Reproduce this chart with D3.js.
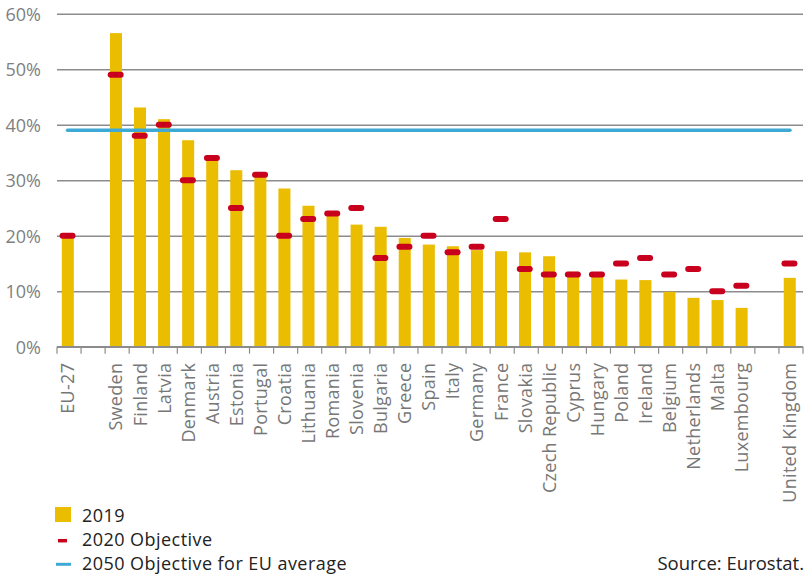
<!DOCTYPE html>
<html>
<head>
<meta charset="utf-8">
<script src="https://cdn.jsdelivr.net/npm/d3@7"></script>
<style>
  body { margin: 0; background: #fff; }
  text { font-family: "Open Sans", sans-serif; }
</style>
</head>
<body>
<script>
// categories ('' = empty slot in the chart)
var categories = ['EU-27', '', 'Sweden', 'Finland', 'Latvia', 'Denmark', 'Austria', 'Estonia',
  'Portugal', 'Croatia', 'Lithuania', 'Romania', 'Slovenia', 'Bulgaria', 'Greece', 'Spain',
  'Italy', 'Germany', 'France', 'Slovakia', 'Czech Republic', 'Cyprus', 'Hungary', 'Poland',
  'Ireland', 'Belgium', 'Netherlands', 'Malta', 'Luxembourg', '', 'United Kingdom'];

// share of renewables 2019 (%)
var values2019 = [19.7, null, 56.5, 43.1, 41.0, 37.2, 33.6, 31.8, 30.6, 28.5, 25.4, 24.3,
  22.0, 21.6, 19.6, 18.4, 18.1, 17.4, 17.2, 17.0, 16.3, 13.5, 12.8, 12.1, 12.0, 9.9, 8.8,
  8.4, 7.0, null, 12.4];

// 2020 objective (%)
var objectives2020 = [20, null, 49, 38, 40, 30, 34, 25, 31, 20, 23, 24, 25, 16, 18, 20, 17,
  18, 23, 14, 13, 13, 13, 15, 16, 13, 14, 10, 11, null, 15];

// 2050 objective for EU average (%)
var objective2050 = 39;

var yTicks = [0, 10, 20, 30, 40, 50, 60];

var legendLabels = ['2019', '2020 Objective', '2050 Objective for EU average'];

//colours
var barColor = '#ebbd00',
    redColor = '#c8001e',
    blueColor = '#3fa9d5',
    gridColor = '#8c8c8c';

//setup graph size
var width = 806, height = 577;
var margin = {top: 13.7, left: 57, right: 3, bottom: 230.3};
var innerW = width - margin.left - margin.right,
    innerH = height - margin.top - margin.bottom;

var svg = d3.select('body').append('svg')
    .attr('width', width)
    .attr('height', height);

var g = svg.append('g')
    .attr('transform', 'translate(' + margin.left + ',' + margin.top + ')');

//scales
var xScale = d3.scaleBand()
    .domain(d3.range(categories.length))
    .range([0, innerW])
    .paddingInner(0.5)
    .paddingOuter(0.25);
var step = xScale.step();
var xCenter = function(i) { return xScale(i) + xScale.bandwidth() / 2; };

var yScale = d3.scaleLinear().domain([0, 60]).range([innerH, 0]);

//gridlines + y labels
var yAxis = d3.axisLeft(yScale)
    .tickValues(yTicks)
    .tickSize(-innerW)
    .tickFormat(function(d) { return d + '%'; });

g.append('g')
    .attr('class', 'y-axis')
    .call(yAxis)
    .call(function(s) {
      s.select('.domain').remove();
      s.selectAll('line').attr('stroke', gridColor).attr('stroke-width', 1.5);
      s.selectAll('text')
        .attr('x', -16)
        .attr('dy', '0.36em')
        .attr('fill', '#7f7f7f')
        .style('font-size', '18px');
    });

//bars
g.selectAll('.bar')
    .data(values2019.map(function(v, i) { return {v: v, i: i}; }).filter(function(d) { return d.v != null; }))
    .enter().append('rect')
    .attr('class', 'bar')
    .attr('x', function(d) { return xScale(d.i) - 1.2; })
    .attr('width', xScale.bandwidth())
    .attr('y', function(d) { return yScale(d.v); })
    .attr('height', function(d) { return innerH - yScale(d.v); })
    .attr('fill', barColor);

//x axis with ticks at band boundaries
g.append('line')
    .attr('x1', 0).attr('x2', innerW)
    .attr('y1', innerH).attr('y2', innerH)
    .attr('stroke', gridColor).attr('stroke-width', 1.5);

g.selectAll('.xtick')
    .data(d3.range(categories.length + 1))
    .enter().append('line')
    .attr('class', 'xtick')
    .attr('x1', function(d) { return d * step; })
    .attr('x2', function(d) { return d * step; })
    .attr('y1', innerH)
    .attr('y2', innerH + 7)
    .attr('stroke', gridColor).attr('stroke-width', 1.2);

g.selectAll('.xlabel')
    .data(categories.map(function(c, i) { return {c: c, i: i}; }).filter(function(d) { return d.c !== ''; }))
    .enter().append('text')
    .attr('class', 'xlabel')
    .attr('transform', function(d) {
      return 'translate(' + (xCenter(d.i) - 1) + ',' + (innerH + 16) + ') rotate(-90)';
    })
    .attr('text-anchor', 'end')
    .attr('dy', '0.35em')
    .attr('fill', '#777')
    .style('font-size', '18px')
    .style('letter-spacing', '0.3px')
    .text(function(d) { return d.c; });

//2050 line
g.append('line')
    .attr('x1', xCenter(0) - 1.5)
    .attr('x2', xCenter(categories.length - 1) - 1)
    .attr('y1', yScale(objective2050))
    .attr('y2', yScale(objective2050))
    .attr('stroke', blueColor)
    .attr('stroke-width', 3.5)
    .attr('stroke-linecap', 'round');

//2020 objective markers
g.selectAll('.obj')
    .data(objectives2020.map(function(v, i) { return {v: v, i: i}; }).filter(function(d) { return d.v != null; }))
    .enter().append('rect')
    .attr('class', 'obj')
    .attr('x', function(d) { return xCenter(d.i) - 1.5 - 8; })
    .attr('width', 16)
    .attr('y', function(d) { return yScale(d.v) - 3; })
    .attr('height', 6)
    .attr('rx', 3)
    .attr('fill', redColor);

//legend
var legend = svg.append('g').attr('transform', 'translate(55,0)');
legend.append('rect')
    .attr('x', 0).attr('y', 507).attr('width', 16).attr('height', 15)
    .attr('fill', barColor);
legend.append('line')
    .attr('x1', 3).attr('x2', 12).attr('y1', 540.7).attr('y2', 540.7)
    .attr('stroke', redColor).attr('stroke-width', 3.5);
legend.append('line')
    .attr('x1', 1).attr('x2', 16).attr('y1', 564.3).attr('y2', 564.3)
    .attr('stroke', blueColor).attr('stroke-width', 3);

legend.selectAll('.ltext')
    .data(legendLabels)
    .enter().append('text')
    .attr('class', 'ltext')
    .attr('x', 27)
    .attr('y', function(d, i) { return 521.5 + i * 24.3; })
    .attr('fill', '#222')
    .style('font-size', '18px')
    .style('letter-spacing', '0.45px')
    .text(function(d) { return d; });

svg.append('text')
    .attr('x', 804)
    .attr('y', 569.5)
    .attr('text-anchor', 'end')
    .attr('fill', '#222')
    .style('font-size', '18.5px')
    .text('Source: Eurostat.');
</script>
</body>
</html>
